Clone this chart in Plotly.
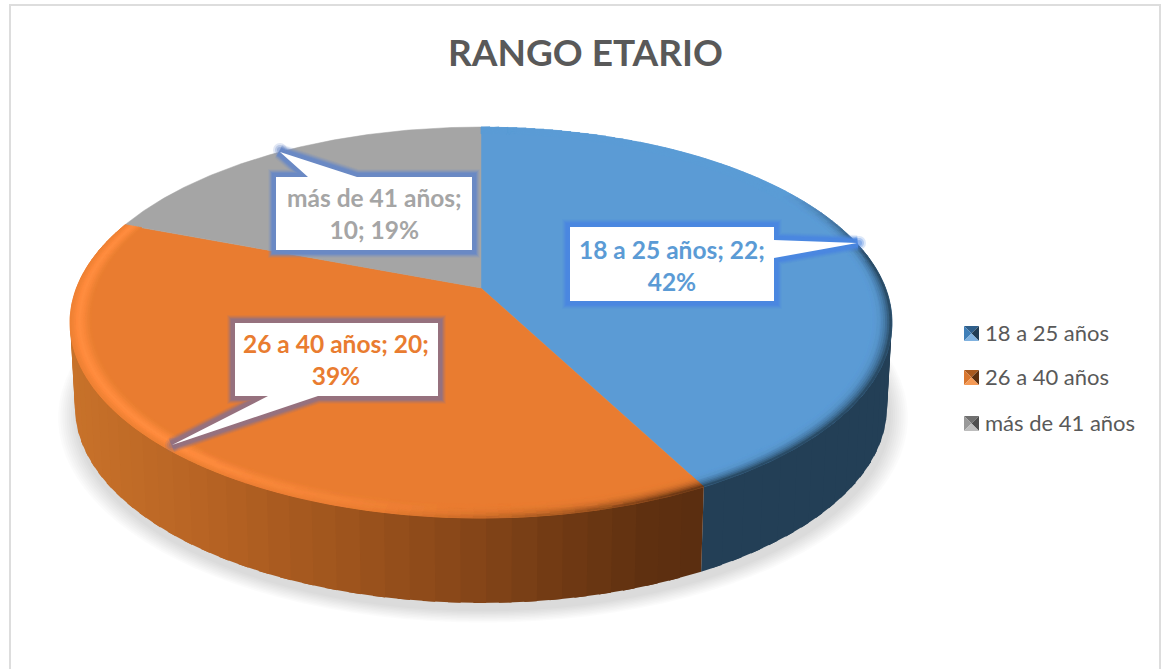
import math
import plotly.graph_objects as go

# ---- data ----
categories = ["18 a 25 años", "26 a 40 años", "más de 41 años"]
values = [22, 20, 10]
percent_labels = ["42%", "39%", "19%"]
title_text = "RANGO ETARIO"
top_colors = ["#5B9BD5", "#E97C30", "#A5A5A5"]

# ---- projection of the tilted disc onto the page ----
CX, CY, A, B, K = 481.0, 288.0, 404.5, 189.4, 0.1765
DEPTH, BOTTOM_SCALE = 85.0, 0.988
STEP = 1.5


def proj(theta, r=1.0):
    t = math.radians(theta)
    u, v = r * math.sin(t), r * math.cos(t)
    w = 1 + K * v
    return CX + A * u / w, CY - B * v / w


def proj_bottom(theta, r=1.0):
    x, y = proj(theta, r)
    return CX + (x - CX) * BOTTOM_SCALE, y + DEPTH


def hex2rgb(h):
    return tuple(int(h[i:i + 2], 16) for i in (1, 3, 5))


def mix(c1, c2, t):
    return tuple(c1[i] + (c2[i] - c1[i]) * t for i in range(3))


def to_css(c, q=3):
    return "rgb(%d,%d,%d)" % tuple(min(255, round(x / q) * q) for x in c)


def orange_wall(x):
    stops = [(70, "#C8722A"), (200, "#B86424"), (320, "#A3571E"), (450, "#8A4819"),
             (560, "#713A14"), (650, "#5E3010"), (705, "#5A2E10")]
    for (x0, c0), (x1, c1) in zip(stops, stops[1:]):
        if x <= x1:
            return mix(hex2rgb(c0), hex2rgb(c1), max(0, (x - x0) / (x1 - x0)))
    return hex2rgb(stops[-1][1])


def blue_wall(x):
    return hex2rgb("#233F56")


wall_funcs = [blue_wall, orange_wall, lambda x: hex2rgb("#555555")]

total = sum(values)
edges = [0.0]
for val in values:
    edges.append(edges[-1] + 360.0 * val / total)

fig = go.Figure()


def add_polys(groups, stroke=0.8):
    for color, polys in groups.items():
        xs, ys = [], []
        for poly in polys:
            xs += [p[0] for p in poly] + [poly[0][0], None]
            ys += [p[1] for p in poly] + [poly[0][1], None]
        fig.add_trace(go.Scatter(x=xs, y=ys, mode="lines", fill="toself", fillcolor=color,
                                 line=dict(color=color, width=stroke), hoverinfo="skip",
                                 showlegend=False))


# soft shadow under the disc
for i in range(9):
    r = 1.045 - i * 0.005
    pts = [proj_bottom(a, r) for a in range(0, 361, 3)]
    fig.add_trace(go.Scatter(x=[p[0] + 2 for p in pts], y=[p[1] + 7 for p in pts], mode="lines",
                             fill="toself", fillcolor="rgba(0,0,0,0.016)", line=dict(width=0),
                             hoverinfo="skip", showlegend=False))

# side wall: each strip overlaps the next and is painted on its own, in angle order
for i in range(len(values)):
    n = max(1, int((edges[i + 1] - edges[i]) / (2 * STEP)))
    for j in range(n):
        a0 = edges[i] + (edges[i + 1] - edges[i]) * j / n
        a1 = edges[i] + (edges[i + 1] - edges[i]) * (j + 1) / n
        mid = math.cos(math.radians((a0 + a1) / 2))
        if mid > 0.3:
            continue
        a1x = min(edges[i + 1], a1 + STEP)
        quad = [proj(a0), proj(a1x), proj_bottom(a1x), proj_bottom(a0)]
        x_mid = sum(p[0] for p in (proj(a0), proj(a1), proj_bottom(a1), proj_bottom(a0))) / 4
        add_polys({to_css(wall_funcs[i](x_mid), q=1): [quad]}, stroke=0)

# top faces
for i, name in enumerate(categories):
    n = max(2, int((edges[i + 1] - edges[i]) / 0.5))
    arc = [proj(edges[i] + (edges[i + 1] - edges[i]) * j / n) for j in range(n + 1)]
    pts = [(CX, CY)] + arc + [(CX, CY)]
    fig.add_trace(go.Scatter(x=[p[0] for p in pts], y=[p[1] for p in pts], mode="lines",
                             fill="toself", fillcolor=top_colors[i], name=name,
                             line=dict(color=top_colors[i], width=0.5),
                             hoverinfo="skip", showlegend=False))

# bevel along the rim of the top faces
rim = {}
BANDS = 10
R0 = 0.95
for i in (0, 1):
    base = hex2rgb(top_colors[i])
    n = max(1, int((edges[i + 1] - edges[i]) / STEP))
    for j in range(n):
        a0 = edges[i] + (edges[i + 1] - edges[i]) * j / n
        a1 = edges[i] + (edges[i + 1] - edges[i]) * (j + 1) / n
        am = math.radians((a0 + a1) / 2)
        u, v = math.sin(am), math.cos(am)
        light = max(0, min(1, -u * 1.5))
        dark = max(0, min(1, (u + 0.25) * 1.5)) * max(0, min(1, (0.55 - v) / 0.4))
        for b in range(BANDS):
            r0 = R0 + (1 - R0) * b / BANDS
            r1 = R0 + (1 - R0) * (b + 1) / BANDS
            rm = (r0 + r1) / 2
            c = base
            c = mix(c, hex2rgb("#FF8C3E"), light * math.exp(-((rm - 0.978) / 0.017) ** 2))
            x_mid = proj((a0 + a1) / 2, rm)[0]
            c = mix(c, wall_funcs[i](x_mid), dark * ((rm - R0) / (1 - R0)) ** 2.6)
            quad = [proj(a0, r0), proj(a1, r0), proj(a1, r1), proj(a0, r1)]
            rim.setdefault(to_css(c), []).append(quad)
add_polys(rim)

# legend swatches (bevelled squares)
swatch_faces = [("#2F5F8B", "#3F7FB8", "#223E55", "#80B2E0"),
                ("#A85A20", "#D9772F", "#5C3010", "#F59A55"),
                ("#707070", "#999999", "#4F4F4F", "#BDBDBD")]
legend_y = [333, 377, 423]
SW_X0, SW_S = 964, 15
swatches = {}
for ly, faces in zip(legend_y, swatch_faces):
    x0, x1, y0, y1 = SW_X0, SW_X0 + SW_S, ly - 7, ly + 8
    xc, yc = (x0 + x1) / 2, (y0 + y1) / 2
    tris = [[(x0, y0), (x1, y0), (xc, yc)], [(x0, y0), (x0, y1), (xc, yc)],
            [(x1, y0), (x1, y1), (xc, yc)], [(x0, y1), (x1, y1), (xc, yc)]]
    for tri, col in zip(tris, faces):
        swatches.setdefault(col, []).append(tri)
for col, polys in swatches.items():
    xs, ys = [], []
    for poly in polys:
        xs += [p[0] for p in poly] + [poly[0][0], None]
        ys += [p[1] for p in poly] + [poly[0][1], None]
    fig.add_trace(go.Scatter(x=xs, y=ys, mode="lines", fill="toself", fillcolor=col,
                             line=dict(width=0), hoverinfo="skip", showlegend=False))

# callouts: (outline polygon, glow colour, text centre, tip)
callouts = [
    ([(570, 227), (774, 227), (774, 240), (857, 243), (774, 258), (774, 301), (570, 301)],
     "74,134,224", (672, 265), (859, 243)),
    ([(235, 323), (438, 323), (438, 396), (318, 396), (172, 445), (268, 396), (235, 396)],
     "146,113,130", (336, 359), (172, 445)),
    ([(276, 177), (308, 177), (280, 152), (357, 177), (472, 177), (472, 250), (276, 250)],
     "104,136,198", (374, 213), (280, 150)),
]
shapes = []
for poly, glow, _, tip in callouts:
    path = "M " + " L ".join(f"{x},{y}" for x, y in poly) + " Z"
    for w, op in ((16, 0.12), (14, 0.2), (12, 0.3), (10, 0.55), (8, 0.8)):
        shapes.append(dict(type="path", path=path, xref="x", yref="y", layer="above",
                           fillcolor="rgba(0,0,0,0)",
                           line=dict(color=f"rgba({glow},{op})", width=w)))
    for rad, op in ((7, 0.2), (5, 0.3), (3, 0.4)):
        shapes.append(dict(type="circle", x0=tip[0] - rad, x1=tip[0] + rad,
                           y0=tip[1] - rad, y1=tip[1] + rad, xref="x", yref="y", layer="above",
                           fillcolor=f"rgba({glow},{op})", line=dict(width=0)))
    shapes.append(dict(type="path", path=path, xref="x", yref="y", layer="above",
                       fillcolor="white", line=dict(width=0)))

# chart frame
for x0, y0, x1, y1 in ((9, 4, 1161, 6), (9, 4, 11, 669), (1159, 4, 1161, 669)):
    shapes.append(dict(type="rect", x0=x0, y0=y0, x1=x1, y1=y1, xref="x", yref="y", layer="below",
                       fillcolor="#DDDDDD", line=dict(width=0)))

annotations = [dict(text=f"<b>{title_text}</b>", x=585, y=51, xref="x", yref="y", showarrow=False,
                    font=dict(family="Lato", size=37, color="#595959"),
                    xanchor="center", yanchor="middle")]

label_lines = [f"{categories[0]}; {values[0]};<br>{percent_labels[0]}",
               f"{categories[1]}; {values[1]};<br>{percent_labels[1]}",
               f"{categories[2]};<br>{values[2]}; {percent_labels[2]}"]
for (poly, glow, (tx, ty), _), txt, col in zip(callouts, label_lines, top_colors):
    annotations.append(dict(text=f"<b>{txt}</b>", x=tx, y=ty, xref="x", yref="y", showarrow=False,
                            font=dict(family="Lato", size=24.5, color=col),
                            xanchor="center", yanchor="middle", align="center"))

for name, ly in zip(categories, legend_y):
    annotations.append(dict(text=name, x=983, y=ly - 1, xref="x", yref="y", showarrow=False,
                            font=dict(family="Lato", size=22, color="#595959"),
                            xanchor="left", yanchor="middle"))

fig.update_layout(
    width=1166, height=669, margin=dict(l=0, r=0, t=0, b=0),
    paper_bgcolor="white", plot_bgcolor="white", showlegend=False,
    xaxis=dict(range=[0, 1166], visible=False, fixedrange=True),
    yaxis=dict(range=[669, 0], visible=False, fixedrange=True),
    shapes=shapes, annotations=annotations,
)

fig.write_html("out.html", config=dict(displayModeBar=False),
               post_script="document.body.style.margin='0';document.documentElement.style.overflow='hidden';")
